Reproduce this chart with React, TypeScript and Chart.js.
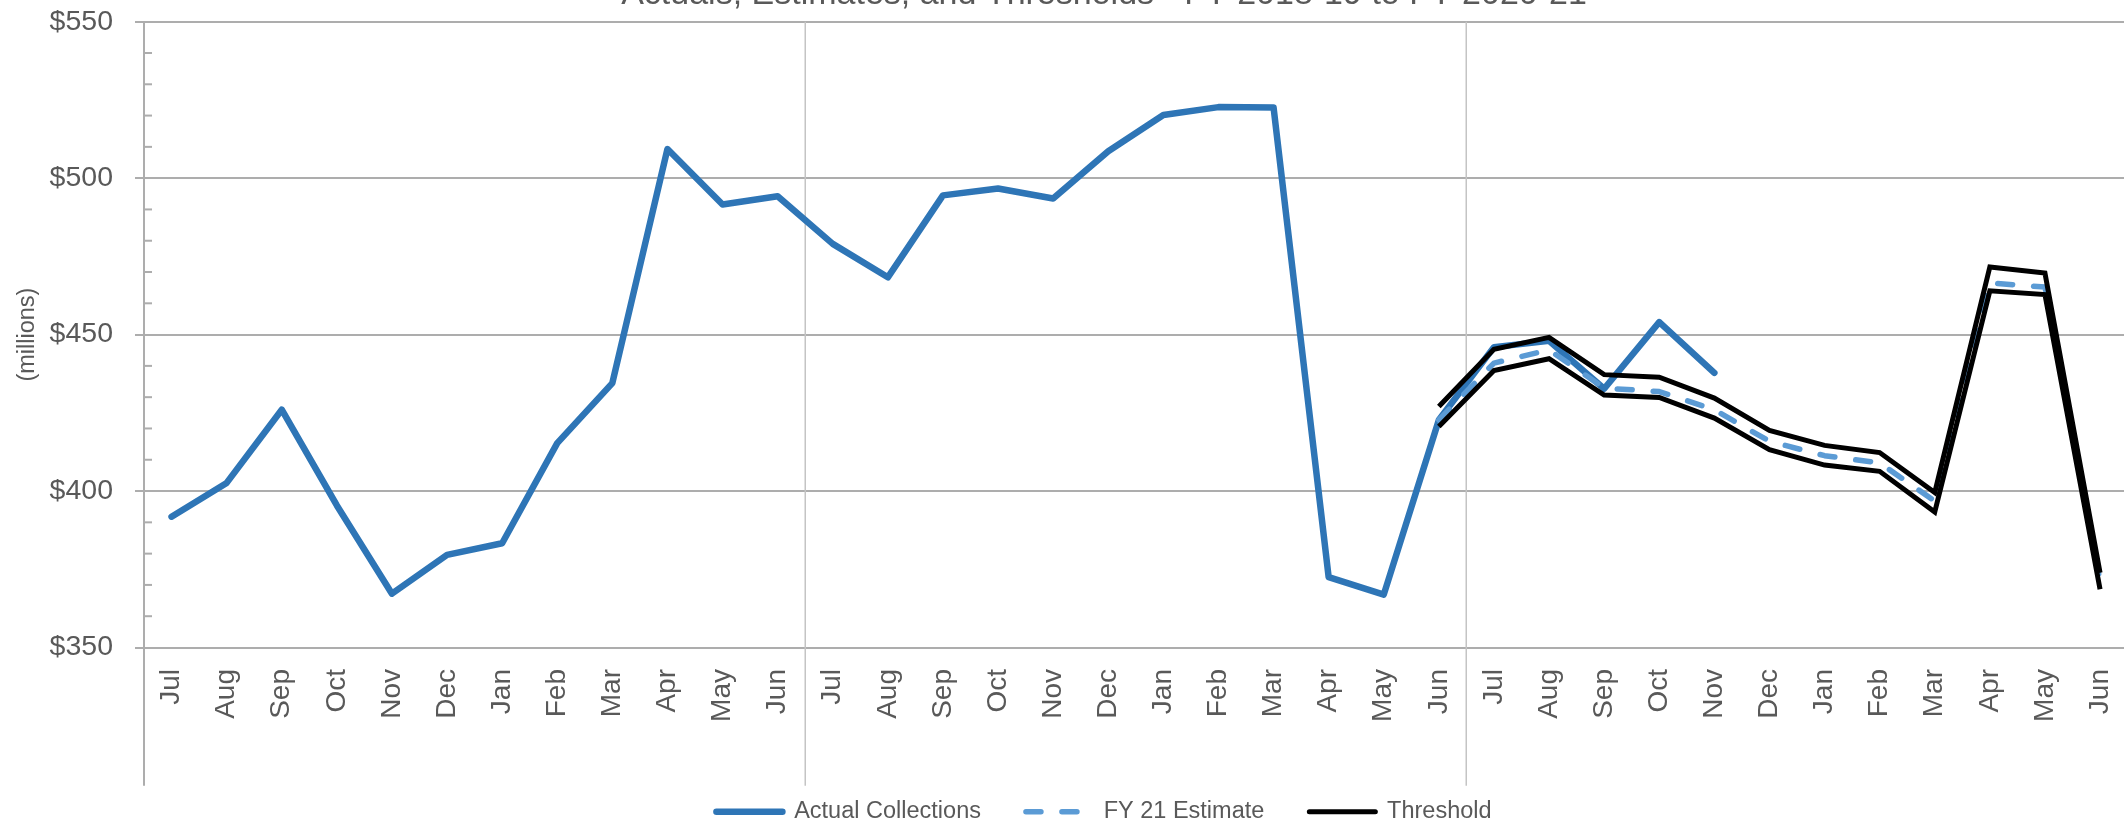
import React, { useEffect, useRef } from 'react';
import { Chart, registerables } from 'chart.js';

Chart.register(...registerables);

// ---------- data ----------
const monthNames = ['Jul', 'Aug', 'Sep', 'Oct', 'Nov', 'Dec', 'Jan', 'Feb', 'Mar', 'Apr', 'May', 'Jun'];
const fiscalYears = ['FY 2018-19', 'FY 2019-20', 'FY 2020-21'];
const categories = fiscalYears.flatMap(() => monthNames);

const actualCollections = [
  391.8, 402.6, 426.0, 395.4, 367.2, 379.6, 383.3, 415.3, 434.5, 509.3, 491.6, 494.2,
  479.0, 468.3, 494.5, 496.7, 493.5, 508.6, 520.2, 522.7, 522.6, 372.5, 366.9, 422.7,
  446.0, 448.0, 432.7, 454.0, 437.8, null, null, null, null, null, null, null,
];

const fy21Estimate = [
  null, null, null, null, null, null, null, null, null, null, null, null,
  null, null, null, null, null, null, null, null, null, null, null, 422.7,
  440.9, 445.1, 432.9, 431.8, 426.0, 415.9, 411.3, 409.0, 396.8, 466.5, 465.2, 371.3,
];

const thresholdUpper = [
  null, null, null, null, null, null, null, null, null, null, null, null,
  null, null, null, null, null, null, null, null, null, null, null, 427.0,
  445.3, 449.1, 437.2, 436.4, 429.7, 419.4, 414.6, 412.3, 399.5, 471.6, 469.7, 373.9,
];

const thresholdLower = [
  null, null, null, null, null, null, null, null, null, null, null, null,
  null, null, null, null, null, null, null, null, null, null, null, 420.6,
  438.5, 442.3, 430.7, 429.9, 423.3, 413.2, 408.3, 406.3, 393.3, 464.0, 462.8, 368.6,
];

const yMin = 350;
const yMax = 550;
const yStep = 50;
const yMinorStep = 10;

const chartTitle = 'Actuals, Estimates, and Thresholds - FY 2018-19 to FY 2020-21';
const yAxisTitle = '(millions)';

// ---------- styling ----------
const FONT = "'Liberation Sans', Arial, sans-serif";
const TEXT = '#595959';
const GRID = '#ADADAD';
const SEP = '#C4C4C4';

const CANVAS_W = 2208;
const CANVAS_H = 870;
const SHIFT = 30;

const decorPlugin = {
  id: 'decor',
  beforeDatasetsDraw(chart: any) {
    const { ctx, chartArea, scales } = chart;
    const x = scales.x;
    const y = scales.y;
    const x2 = scales.x2;
    const x2opts = x2.options;
    const bottomEnd = x2.top + x2opts.ticks.padding + x2opts.ticks.font.size * 1.2;
    ctx.save();
    const step = (x.right - x.left) / categories.length;
    ctx.strokeStyle = SEP;
    ctx.lineWidth = 1.5;
    for (let g = 1; g < fiscalYears.length; g++) {
      const px = Math.round(x.getPixelForValue(g * monthNames.length) - step / 2) + 0.25;
      ctx.beginPath();
      ctx.moveTo(px, chartArea.top);
      ctx.lineTo(px, bottomEnd);
      ctx.stroke();
    }
    ctx.strokeStyle = GRID;
    ctx.lineWidth = 2;
    ctx.beginPath();
    ctx.moveTo(chartArea.left, chartArea.bottom);
    ctx.lineTo(chartArea.left, bottomEnd);
    ctx.stroke();
    for (let v = yMin + yMinorStep; v < yMax; v += yMinorStep) {
      if (v % yStep === 0) continue;
      const py = y.getPixelForValue(v);
      ctx.beginPath();
      ctx.moveTo(chartArea.left, py);
      ctx.lineTo(chartArea.left + 8, py);
      ctx.stroke();
    }
    ctx.restore();
  },
};

export default function App() {
  const ref = useRef<HTMLCanvasElement | null>(null);

  useEffect(() => {
    if (!ref.current) return;
    Chart.defaults.font.family = FONT;
    Chart.defaults.color = TEXT;

    const chart = new Chart(ref.current, {
      type: 'line',
      data: {
        labels: categories,
        datasets: [
          {
            label: 'Actual Collections',
            data: actualCollections,
            borderColor: '#2E75B6',
            backgroundColor: '#2E75B6',
            borderWidth: 6.5,
            borderCapStyle: 'round',
            borderJoinStyle: 'round',
            pointRadius: 0,
            pointHoverRadius: 0,
            tension: 0,
            spanGaps: false,
            order: 3,
            xAxisID: 'x',
            yAxisID: 'y',
          },
          {
            label: 'FY 21 Estimate',
            data: fy21Estimate,
            borderColor: '#5B9BD5',
            backgroundColor: '#5B9BD5',
            borderWidth: 5.5,
            borderDash: [15, 21],
            borderCapStyle: 'round',
            borderJoinStyle: 'round',
            pointRadius: 0,
            pointHoverRadius: 0,
            tension: 0,
            order: 2,
            xAxisID: 'x',
            yAxisID: 'y',
          },
          {
            label: 'Threshold',
            data: thresholdUpper,
            borderColor: '#000000',
            backgroundColor: '#000000',
            borderWidth: 5,
            borderCapStyle: 'butt',
            borderJoinStyle: 'miter',
            pointRadius: 0,
            pointHoverRadius: 0,
            tension: 0,
            order: 1,
            xAxisID: 'x',
            yAxisID: 'y',
          },
          {
            label: 'Threshold (lower)',
            data: thresholdLower,
            borderColor: '#000000',
            backgroundColor: '#000000',
            borderWidth: 5,
            borderCapStyle: 'butt',
            borderJoinStyle: 'miter',
            pointRadius: 0,
            pointHoverRadius: 0,
            tension: 0,
            order: 1,
            xAxisID: 'x',
            yAxisID: 'y',
          },
        ],
      },
      options: {
        responsive: false,
        devicePixelRatio: 1,
        animation: false,
        events: [],
        layout: { padding: { left: 0, right: 0, top: 0, bottom: 6.55 } },
        plugins: {
          title: {
            display: true,
            text: chartTitle,
            color: TEXT,
            font: { family: FONT, size: 34, weight: 'normal', lineHeight: 1.2 },
            padding: { top: 4, bottom: 6.9 },
          },
          legend: {
            display: true,
            position: 'bottom',
            labels: {
              color: TEXT,
              font: { family: FONT, size: 23.5 },
              usePointStyle: true,
              pointStyle: 'line',
              pointStyleWidth: 66,
              padding: 45,
              generateLabels: (c: any) =>
                c.data.datasets
                  .map((ds: any, i: number) => ({
                    text: ds.label,
                    datasetIndex: i,
                    fillStyle: ds.borderColor,
                    strokeStyle: ds.borderColor,
                    fontColor: TEXT,
                    lineWidth: ds.borderWidth,
                    lineDash: ds.borderDash || [],
                    lineCap: 'round',
                    lineJoin: 'round',
                    pointStyle: 'line',
                    rotation: 0,
                    hidden: false,
                  }))
                  .filter((item: any) => item.datasetIndex !== 3),
            },
          },
          tooltip: { enabled: false },
        },
        scales: {
          x: {
            type: 'category',
            position: 'bottom',
            weight: 0,
            offset: true,
            grid: { display: false, drawTicks: false },
            border: { display: false },
            ticks: {
              color: TEXT,
              font: { family: FONT, size: 28 },
              autoSkip: false,
              maxRotation: 90,
              minRotation: 90,
              padding: 21.5,
            },
            afterFit: (s: any) => {
              s.height = 95;
            },
          },
          x2: {
            type: 'category',
            position: 'bottom',
            weight: 1,
            labels: fiscalYears,
            offset: true,
            grid: { display: false, drawTicks: false },
            border: { display: false },
            ticks: {
              color: TEXT,
              font: { family: FONT, size: 28.5 },
              autoSkip: false,
              maxRotation: 0,
              minRotation: 0,
              padding: 9,
            },
            afterFit: (s: any) => {
              s.height = 12.45;
            },
          },
          y: {
            type: 'linear',
            position: 'left',
            min: yMin,
            max: yMax,
            grid: {
              color: GRID,
              lineWidth: 2,
              drawTicks: true,
              tickLength: 9,
              tickColor: GRID,
              tickWidth: 2,
            },
            border: { display: true, color: GRID, width: 2 },
            ticks: {
              stepSize: yStep,
              color: TEXT,
              font: { family: FONT, size: 28.5 },
              padding: 22,
              callback: (v: any) => '$' + v,
            },
            title: {
              display: true,
              text: yAxisTitle,
              color: TEXT,
              font: { family: FONT, size: 23.5, lineHeight: 1.2 },
              padding: { top: 13.4, bottom: 0 },
            },
            afterFit: (s: any) => {
              s.width = 144;
            },
          },
          yR: {
            type: 'linear',
            position: 'right',
            display: true,
            grid: { display: false, drawTicks: false },
            border: { display: false },
            ticks: { display: false },
            afterFit: (s: any) => {
              s.width = 80.4;
            },
          },
        },
      },
      plugins: [decorPlugin],
    } as any);

    return () => chart.destroy();
  }, []);

  return (
    <div
      style={{
        position: 'fixed',
        left: 0,
        top: 0,
        width: 2124,
        height: 825,
        overflow: 'hidden',
        background: '#ffffff',
      }}
    >
      <canvas
        ref={ref}
        width={CANVAS_W}
        height={CANVAS_H}
        style={{ position: 'absolute', left: 0, top: -SHIFT, width: CANVAS_W, height: CANVAS_H }}
      />
    </div>
  );
}
